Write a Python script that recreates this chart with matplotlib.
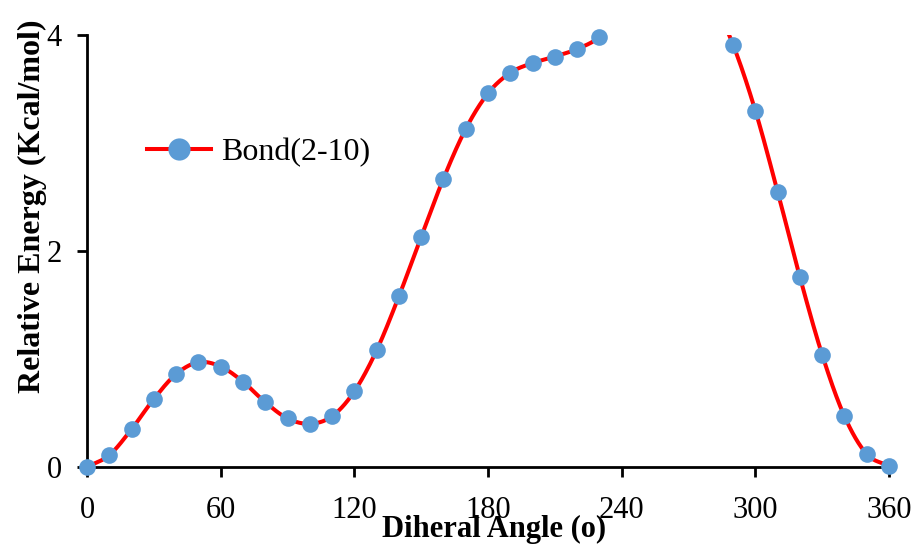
import numpy as np
import matplotlib
matplotlib.use("Agg")
import matplotlib.pyplot as plt

plt.rcParams['font.family'] = ['Liberation Serif', 'DejaVu Serif']

# dihedral scan, relative energy (Kcal/mol); 240-280 lie above the shown range
angle = [0, 10, 20, 30, 40, 50, 60, 70, 80, 90, 100, 110, 120, 130, 140, 150,
         160, 170, 180, 190, 200, 210, 220, 230, 240, 250, 260, 270, 280, 290,
         300, 310, 320, 330, 340, 350, 360]
energy = [0.00, 0.11, 0.35, 0.63, 0.86, 0.97, 0.93, 0.79, 0.60, 0.45, 0.40,
          0.47, 0.70, 1.08, 1.58, 2.13, 2.67, 3.13, 3.46, 3.65, 3.74, 3.80,
          3.87, 3.98, 4.20, 4.45, 4.60, 4.60, 4.35, 3.91, 3.30, 2.55, 1.76,
          1.04, 0.47, 0.12, 0.01]
xticks = [0, 60, 120, 180, 240, 300, 360]
yticks = [0, 2, 4]
series_name = "Bond(2-10)"


def smooth(x, y, n=30):
    # Catmull-Rom curve through the points, like a smoothed Excel line
    x = np.asarray(x, float)
    y = np.asarray(y, float)
    px = np.concatenate([[2 * x[0] - x[1]], x, [2 * x[-1] - x[-2]]])
    py = np.concatenate([[2 * y[0] - y[1]], y, [2 * y[-1] - y[-2]]])
    t = np.linspace(0, 1, n, endpoint=False)
    xs, ys = [], []
    for i in range(1, len(px) - 2):
        for p, out in ((px, xs), (py, ys)):
            p0, p1, p2, p3 = p[i - 1], p[i], p[i + 1], p[i + 2]
            out.append(0.5 * (2 * p1 + (-p0 + p2) * t
                              + (2 * p0 - 5 * p1 + 4 * p2 - p3) * t ** 2
                              + (-p0 + 3 * p1 - 3 * p2 + p3) * t ** 3))
    xs.append([x[-1]])
    ys.append([y[-1]])
    return np.concatenate(xs), np.concatenate(ys)


fig = plt.figure(figsize=(9.16, 5.52), dpi=100)
ax = fig.add_axes([0.095, 0.154, 0.8755, 0.7826])

sx, sy = smooth(angle, energy)
ax.plot(sx, sy, color='#FF0000', lw=2.9, zorder=2)

a = np.array(angle)
e = np.array(energy)
vis = e <= 4
ax.plot(a[vis], e[vis], 'o', color='#5B9BD5', ms=12, mec='none',
        clip_on=False, zorder=3)

# legend handle: line with marker
ax.plot([], [], '-o', color='#FF0000', lw=2.9, mfc='#5B9BD5', mec='none',
        ms=16, label=series_name)
leg = ax.legend(loc='center left', bbox_to_anchor=(0.075, 0.727),
                frameon=False, fontsize=23, handlelength=2.0,
                handletextpad=0.3, borderaxespad=0, borderpad=0)

ax.set_xlim(0, 360)
ax.set_ylim(0, 4)
ax.set_xticks(xticks)
ax.set_yticks(yticks)
for s in ['top', 'right']:
    ax.spines[s].set_visible(False)
for s in ['left', 'bottom']:
    ax.spines[s].set_linewidth(2)
ax.tick_params(axis='both', direction='out', length=7, width=2,
               labelsize=22)
ax.tick_params(axis='x', pad=14)
ax.tick_params(axis='y', pad=11)

ax.set_xlabel('Diheral Angle (o)', fontsize=22, fontweight='bold')
ax.xaxis.set_label_coords(0.508, -0.112)
ax.set_ylabel('Relative Energy (Kcal/mol)', fontsize=23, fontweight='bold')
ax.yaxis.set_label_coords(-0.05, 0.604)

fig.savefig('out.png', dpi=100)
